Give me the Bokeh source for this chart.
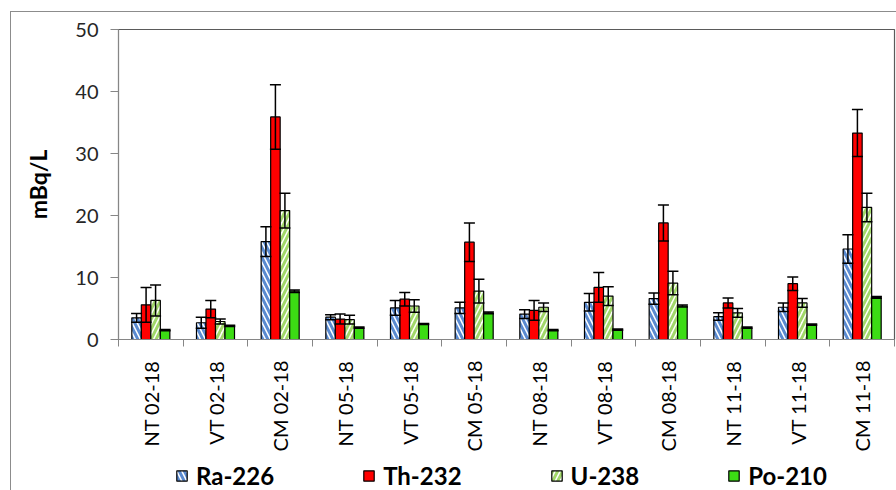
from math import pi

import numpy as np
from bokeh.embed import file_html
from bokeh.layouts import column
from bokeh.models import (ColumnDataSource, FixedTicker, Legend, LegendItem,
                          Range1d, TeeHead, Whisker)
from bokeh.plotting import figure
from bokeh.resources import INLINE

# Sampling points and campaigns
samples = ["NT 02-18", "VT 02-18", "CM 02-18",
           "NT 05-18", "VT 05-18", "CM 05-18",
           "NT 08-18", "VT 08-18", "CM 08-18",
           "NT 11-18", "VT 11-18", "CM 11-18"]

# Activity concentrations (mBq/L) with their uncertainties
ra226 = [3.5, 2.7, 15.8, 3.6, 5.1, 5.1, 4.1, 6.0, 6.6, 3.7, 5.2, 14.6]
ra226_err = [0.7, 0.9, 2.4, 0.4, 1.2, 0.9, 0.7, 1.4, 0.9, 0.6, 0.7, 2.3]
th232 = [5.6, 4.9, 35.9, 3.3, 6.5, 15.7, 4.7, 8.4, 18.8, 5.9, 9.0, 33.3]
th232_err = [2.8, 1.4, 5.2, 0.8, 1.1, 3.1, 1.6, 2.4, 2.9, 0.8, 1.1, 3.8]
u238 = [6.3, 2.9, 20.8, 3.2, 5.4, 7.8, 5.2, 7.0, 9.1, 4.3, 5.9, 21.3]
u238_err = [2.5, 0.4, 2.8, 0.7, 1.0, 1.9, 0.7, 1.5, 1.9, 0.7, 0.7, 2.3]
po210 = [1.5, 2.2, 7.8, 1.9, 2.5, 4.3, 1.5, 1.6, 5.4, 1.9, 2.4, 6.8]
po210_err = [0.1, 0.1, 0.2, 0.1, 0.1, 0.15, 0.1, 0.1, 0.15, 0.1, 0.1, 0.15]

y_ticks = [0, 10, 20, 30, 40, 50]

FONT = "Lato"
n = len(samples)
centers = np.arange(n) + 0.5
bar_w = 0.147
offsets = [-1.5 * bar_w, -0.5 * bar_w, 0.5 * bar_w, 1.5 * bar_w]

styles = [
    dict(fill_color="white", hatch_pattern="\\", hatch_color="#5A8AD0",
         hatch_weight=3, hatch_scale=10),
    dict(fill_color="#FF0000"),
    dict(fill_color="white", hatch_pattern="/", hatch_color="#A2D86A",
         hatch_weight=3, hatch_scale=10),
    dict(fill_color="#3CDC14"),
]
series = [("Ra-226", ra226, ra226_err), ("Th-232", th232, th232_err),
          ("U-238", u238, u238_err), ("Po-210", po210, po210_err)]

W = 885  # width of the chart area inside the frame

p = figure(width=W, height=445, x_range=Range1d(0, n), y_range=Range1d(0, 50),
           output_backend="svg", toolbar_location=None,
           min_border_left=107, min_border_right=2, min_border_top=17,
           min_border_bottom=118, background_fill_color="white",
           border_fill_color="white")
p.xgrid.visible = False
p.ygrid.visible = False
p.outline_line_color = "#5a5a5a"
p.outline_line_width = 1.2

for (name, vals, errs), style, off in zip(series, styles, offsets):
    vals = np.array(vals, dtype=float)
    errs = np.array(errs, dtype=float)
    src = ColumnDataSource(dict(x=centers + off, top=vals,
                                lo=vals - errs, hi=vals + errs))
    p.vbar(x="x", top="top", bottom=0, width=bar_w, source=src,
           line_color="black", line_width=1.2, **style)
    w = Whisker(source=src, base="x", upper="hi", lower="lo", dimension="height",
                line_color="black", line_width=1.5, level="annotation",
                upper_head=TeeHead(size=11, line_color="black", line_width=1.5),
                lower_head=TeeHead(size=11, line_color="black", line_width=1.5))
    p.add_layout(w)

# y axis
p.yaxis.ticker = FixedTicker(ticks=y_ticks)
p.yaxis.axis_label = "mBq/L"
p.yaxis.axis_label_text_font = FONT
p.yaxis.axis_label_text_font_style = "bold"
p.yaxis.axis_label_text_font_size = "23px"
p.yaxis.axis_label_text_color = "black"
p.yaxis.axis_label_standoff = 20
p.yaxis.major_label_text_font = FONT
p.yaxis.major_label_text_font_size = "20px"
p.yaxis.major_label_text_color = "#262626"
p.yaxis.major_tick_out = 8
p.yaxis.major_tick_in = 0
p.yaxis.minor_tick_out = 0
p.yaxis.minor_tick_in = 0
p.yaxis.major_label_standoff = 12
p.yaxis.axis_line_color = "#868686"
p.yaxis.major_tick_line_color = "#868686"

# x axis: labels at group centres, tick marks between groups
p.xaxis.ticker = FixedTicker(ticks=list(centers), minor_ticks=list(range(n + 1)))
p.xaxis.major_label_overrides = {float(c): s for c, s in zip(centers, samples)}
p.xaxis.major_label_orientation = pi / 2
p.xaxis.major_label_text_font = FONT
p.xaxis.major_label_text_font_size = "20px"
p.xaxis.major_label_text_color = "black"
p.xaxis.major_tick_out = 0
p.xaxis.major_tick_in = 0
p.xaxis.minor_tick_out = 7
p.xaxis.minor_tick_in = 0
p.xaxis.major_label_standoff = 14
p.xaxis.axis_line_color = "#868686"
p.xaxis.minor_tick_line_color = "#868686"

# legend strip below the chart; its swatch renderers sit below the visible range
lg = figure(width=W, height=33, x_range=Range1d(0, 1), y_range=Range1d(0, 1),
            output_backend="svg", toolbar_location=None,
            min_border=0, min_border_left=0, min_border_right=0,
            min_border_top=0, min_border_bottom=0,
            background_fill_color="white", border_fill_color="white")
lg.axis.visible = False
lg.grid.visible = False
lg.outline_line_color = None
items = []
for (name, _, _), style in zip(series, styles):
    r = lg.vbar(x=[0.5], top=[-9], bottom=[-10], width=0.01,
                line_color="black", line_width=1.2, **style)
    items.append(LegendItem(label=name, renderers=[r]))
legend = Legend(items=items, orientation="horizontal", location=(57, 0),
                label_text_font=FONT, label_text_font_style="bold",
                label_text_font_size="24px", label_text_color="black",
                glyph_width=13, glyph_height=13, label_standoff=8, spacing=88,
                border_line_color=None, background_fill_alpha=0,
                padding=0, margin=0)
lg.add_layout(legend)

layout = column(p, lg, spacing=0, margin=(11, 0, 0, 10),
                styles={"border-left": "1px solid #8c8c8c",
                        "border-top": "1px solid #8c8c8c"})

open("out.html", "w").write(file_html(layout, INLINE))
